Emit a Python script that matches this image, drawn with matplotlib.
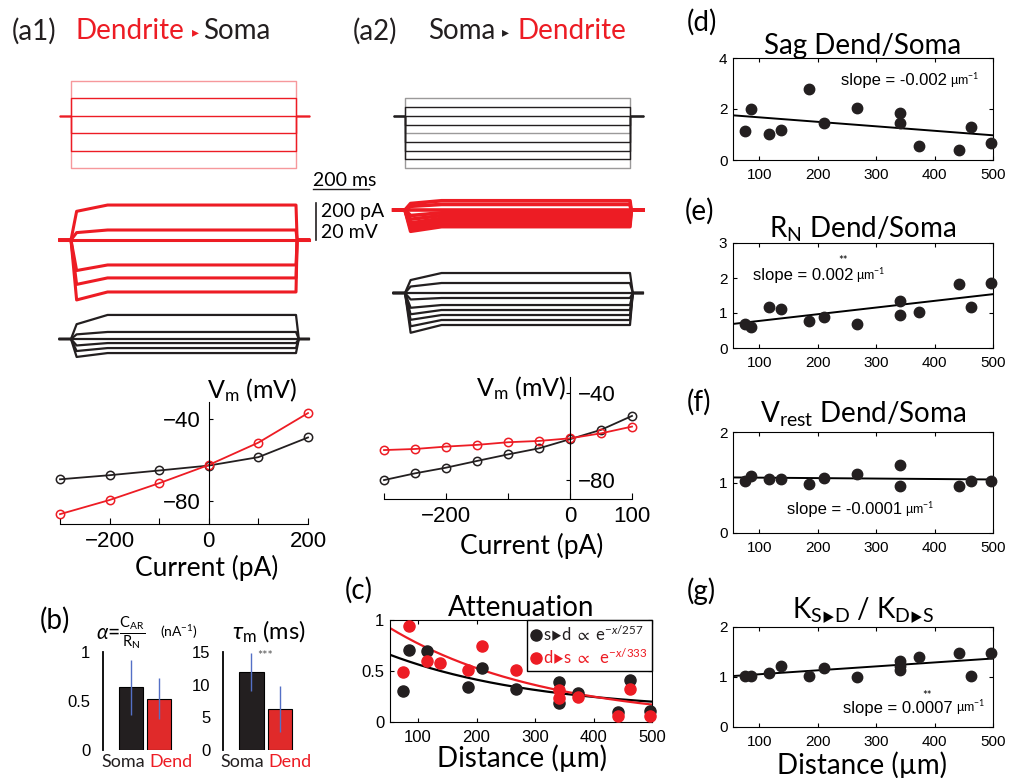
import matplotlib.pyplot as plt
import numpy as np
from matplotlib.lines import Line2D

plt.rcParams['font.family'] = ['Lato', 'DejaVu Sans']
plt.rcParams['mathtext.fontset'] = 'custom'
plt.rcParams['mathtext.rm'] = 'Lato'
plt.rcParams['mathtext.it'] = 'Lato:italic'
plt.rcParams['mathtext.bf'] = 'Lato:bold'
plt.rcParams['mathtext.fallback'] = 'stix'

RED = '#ed1c24'
BLK = '#231f20'
TICKFONT = 'Liberation Sans'
TRI = '\u25b8'

# ---- data -------------------------------------------------------------
# (a1)/(a2) current steps (pA), listed top to bottom
stim_a1 = [200, 100, 0, -100, -200, -300]
stim_a2 = [100, 50, 0, -50, -100, -150, -200, -250, -300]

# example voltage traces (mV from rest): steady state and early (sag/rise) value
a1_dend_ss = [18.9, 5.4, 0, -13.5, -20.5, -28.1]
a1_dend_early = [15.5, 4.0, 0, -16.5, -24.0, -32.4]
a1_soma_ss = [13.0, 3.8, 0, -2.2, -4.9, -7.6]
a1_soma_early = [8.0, 2.5, 0, -3.5, -6.5, -9.7]
a2_dend_ss = [5.0, 3.0, 0, -1.5, -3.0, -4.5, -6.0, -7.5, -9.0]
a2_dend_early = [3.5, 2.0, 0, -3.0, -5.0, -7.0, -8.5, -10.0, -11.5]
a2_soma_ss = [10.8, 5.4, 0, -2.7, -6.5, -9.2, -11.9, -14.6, -17.3]
a2_soma_early = [7.0, 3.5, 0, -3.5, -8.0, -11.5, -14.5, -18.0, -21.5]

# I-V curves
iv_a1_i = [-300, -200, -100, 0, 100, 200]
iv_a1_dend = [-86.4, -79.5, -71.3, -62.4, -51.5, -37.1]
iv_a1_soma = [-69.4, -67.4, -65.1, -62.7, -58.6, -49.0]
iv_a2_i = [-300, -250, -200, -150, -100, -50, 0, 50, 100]
iv_a2_dend = [-66.2, -65.7, -64.6, -63.8, -62.6, -62.0, -60.8, -58.5, -55.4]
iv_a2_soma = [-80.0, -76.9, -74.3, -71.2, -68.2, -65.4, -61.2, -56.9, -50.5]

# (b) bars: soma, dend
alpha_mean = [0.64, 0.525]
alpha_err = [0.28, 0.21]
taum_mean = [11.9, 6.25]
taum_err = [2.9, 3.55]

# (c) attenuation vs distance
att_x_sd = [75, 85, 116, 185, 210, 268, 341, 341, 373, 442, 462, 496]
att_sd = [0.30, 0.71, 0.70, 0.34, 0.53, 0.32, 0.39, 0.19, 0.28, 0.10, 0.41, 0.11]
att_x_ds = [75, 85, 116, 137, 185, 210, 268, 341, 341, 373, 442, 462, 496]
att_ds = [0.49, 0.94, 0.60, 0.58, 0.51, 0.75, 0.51, 0.31, 0.24, 0.25, 0.06, 0.32, 0.06]
fit_sd = (0.682, 257, 0.102)   # amplitude, length constant, offset
fit_ds = (1.12, 266, 0.0)

# (d)-(g) ratios vs distance
dist = [75, 85, 116, 137, 185, 210, 268, 341, 341, 373, 442, 462, 496]
sag = [1.12, 1.99, 1.01, 1.18, 2.77, 1.47, 2.05, 1.86, 1.47, 0.53, 0.39, 1.31, 0.65]
rn = [0.69, 0.61, 1.16, 1.11, 0.77, 0.88, 0.68, 1.33, 0.93, 1.04, 1.82, 1.16, 1.87]
dist_f = [75, 85, 116, 137, 185, 210, 268, 341, 341, 442, 462, 496]
vrest = [1.02, 1.13, 1.06, 1.06, 0.98, 1.09, 1.16, 1.35, 0.94, 0.94, 1.02, 1.02]
dist_g = [75, 85, 116, 137, 185, 210, 268, 341, 341, 341, 373, 442, 462, 496]
kratio = [1.03, 1.03, 1.08, 1.22, 1.03, 1.19, 1.00, 1.32, 1.22, 1.15, 1.41, 1.49, 1.03, 1.49]
# regression lines (intercept, slope)
fit_sag = (1.849, -0.00176)
fit_rn = (0.583, 0.00191)
fit_vrest = (1.105, -0.00009)
fit_k = (0.976, 0.000788)

# ---- figure -----------------------------------------------------------
W, H = 1011, 778
fig = plt.figure(figsize=(W / 100, H / 100), dpi=100)


def pax(x0, y0, x1, y1):
    return fig.add_axes([x0 / W, 1 - y1 / H, (x1 - x0) / W, (y1 - y0) / H])


def ftext(x, y, s, **kw):
    kw.setdefault('va', 'center')
    return fig.text(x / W, 1 - y / H, s, **kw)


def fline(xs, ys, **kw):
    fig.add_artist(Line2D([x / W for x in xs], [1 - y / H for y in ys], **kw))


# ---- (a1)/(a2) traces ---------------------------------------------------
PX_PER_MV = 1.85
T_ON, T_OFF, T_END = 40, 840, 885
MS_PX = 225 / 800


def trace_axes(x_on, y_top, y_bot, ylim):
    x0 = x_on - T_ON * MS_PX
    ax = pax(x0, y_top, x0 + T_END * MS_PX, y_bot)
    ax.set_xlim(0, T_END)
    ax.set_ylim(ylim)
    ax.axis('off')
    return ax


def volt_axes(x_on, y_top, y_base, y_bot):
    return trace_axes(x_on, y_top, y_bot,
                      (-(y_bot - y_base) / PX_PER_MV, (y_base - y_top) / PX_PER_MV))


def draw_stim(ax, levels, color, light):
    for k, lev in enumerate(levels):
        a = 0.45 if k in light else 1.0
        ax.plot([0, T_ON, T_ON, T_OFF, T_OFF, T_END], [0, 0, lev, lev, 0, 0],
                color=color, lw=1.0, alpha=a, clip_on=False)


def draw_volt(ax, ss, early, color, lw, lag):
    for s, e in zip(ss, early):
        t = [0, T_ON, T_ON + 20, T_ON + 130, T_OFF, T_OFF + lag, T_END]
        v = [0, 0, e, s, s, 0, 0]
        ax.plot(t, v, color=color, lw=lw, clip_on=False, solid_joinstyle='round')


ax = trace_axes(71, 81, 168, (-300, 200))
draw_stim(ax, stim_a1, RED, [0, len(stim_a1) - 1])
ax = volt_axes(71, 190, 240, 305)
draw_volt(ax, a1_dend_ss, a1_dend_early, RED, 2.2, 4)
ax = volt_axes(71, 305, 339, 370)
draw_volt(ax, a1_soma_ss, a1_soma_early, BLK, 1.6, 10)

ax = trace_axes(405, 81, 168, (-300, 200))
draw_stim(ax, stim_a2, BLK, [0, 4, len(stim_a2) - 1])
ax = volt_axes(405, 180, 210, 240)
draw_volt(ax, a2_dend_ss, a2_dend_early, RED, 2.6, 4)
ax = volt_axes(405, 250, 293, 345)
draw_volt(ax, a2_soma_ss, a2_soma_early, BLK, 1.6, 10)

# scale bars
ftext(313, 181, '200 ms', fontsize=14, ha='left')
fline([313, 369], [189, 189], color=BLK, lw=1.0)
fline([316, 316], [203, 240], color=BLK, lw=1.2)
ftext(321, 211, '200 pA', fontsize=14, ha='left')
ftext(321, 232, '20 mV', fontsize=14, ha='left')

# headers
ftext(12, 31, '(a1)', fontsize=20, ha='left', color=BLK)
ftext(75, 31, 'Dendrite', fontsize=20, ha='left', color=RED)
ftext(195, 32, TRI, fontsize=10, ha='center', color=RED)
ftext(203, 31, 'Soma', fontsize=20, ha='left', color=BLK)
ftext(353, 31, '(a2)', fontsize=20, ha='left', color=BLK)
ftext(428, 31, 'Soma', fontsize=20, ha='left', color=BLK)
ftext(505, 32, TRI, fontsize=10, ha='center', color=BLK)
ftext(517, 31, 'Dendrite', fontsize=20, ha='left', color=RED)


# ---- I-V curves ---------------------------------------------------------
def iv_axes(box, xlim, ylim, xt, xtl, right=False):
    ax = pax(*box)
    ax.set_xlim(xlim)
    ax.set_ylim(ylim)
    ax.patch.set_visible(False)
    ax.spines['top'].set_visible(False)
    if right:
        ax.spines['left'].set_visible(False)
        ax.spines['right'].set_position(('data', 0))
        ax.yaxis.tick_right()
    else:
        ax.spines['right'].set_visible(False)
        ax.spines['left'].set_position(('data', 0))
    ax.set_xticks(xt)
    ax.set_xticklabels(xtl)
    ax.set_yticks([-80, -40])
    ax.set_yticklabels(['\u221280', '\u221240'])
    ax.tick_params(axis='x', direction='in', length=4, pad=5)
    ax.tick_params(axis='y', direction='in', length=3, pad=6)
    ax.tick_params(labelsize=16, labelfontfamily=TICKFONT)
    return ax


ax = iv_axes((60, 402, 308, 524), (-300, 200), (-91.2, -31.7),
             [-300, -200, -100, 0, 100, 200], ['', '\u2212200', '', '0', '', '200'])
ax.plot(iv_a1_i, iv_a1_soma, 'o-', color=BLK, mfc='none', ms=6, mew=1.1, lw=1.3, clip_on=False)
ax.plot(iv_a1_i, iv_a1_dend, 'o-', color=RED, mfc='none', ms=6, mew=1.1, lw=1.3, clip_on=False)
ftext(207, 390, r'V$_\mathregular{m}$ (mV)', fontsize=18, ha='left')
ftext(207, 568, 'Current (pA)', fontsize=19, ha='center')

ax = iv_axes((384, 377, 632, 499), (-300, 100), (-88.7, -32.6),
             [-300, -200, -100, 0, 100], ['', '\u2212200', '', '0', '100'], right=True)
ax.plot(iv_a2_i, iv_a2_soma, 'o-', color=BLK, mfc='none', ms=6, mew=1.1, lw=1.3, clip_on=False)
ax.plot(iv_a2_i, iv_a2_dend, 'o-', color=RED, mfc='none', ms=6, mew=1.1, lw=1.3, clip_on=False)
ftext(566, 388, r'V$_\mathregular{m}$ (mV)', fontsize=18, ha='right')
ftext(532, 546, 'Current (pA)', fontsize=19, ha='center')


# ---- (b) bars -----------------------------------------------------------
def bar_axes(box, vals, errs, ylim, yt, ytl):
    ax = pax(*box)
    ax.bar([1, 2], vals, width=0.857, color=[BLK, '#e02a2a'], edgecolor='black', lw=0.8)
    ax.errorbar([1, 2], vals, yerr=errs, fmt='none', ecolor='#5470c6', elinewidth=1.0, capsize=0)
    ax.set_xlim(0, 2.6)
    ax.set_ylim(ylim)
    for s in ['top', 'right', 'bottom']:
        ax.spines[s].set_visible(False)
    ax.spines['left'].set_linewidth(1.3)
    ax.set_xticks([])
    ax.set_yticks(yt)
    ax.set_yticklabels(ytl)
    ax.tick_params(axis='y', length=0, pad=9, labelsize=12, labelfontfamily=TICKFONT)
    return ax


bar_axes((103, 652, 176, 750), alpha_mean, alpha_err, (0, 1), [0, 0.5, 1], ['0', '0.5', '1'])
bar_axes((223, 652, 297, 750), taum_mean, taum_err, (0, 15), [0, 5, 10, 15], ['0', '5', '10', '15'])
ftext(145, 762, 'Soma', fontsize=13, ha='right', color=BLK)
ftext(149, 762, 'Dend', fontsize=13, ha='left', color=RED)
ftext(264, 762, 'Soma', fontsize=13, ha='right', color=BLK)
ftext(268, 762, 'Dend', fontsize=13, ha='left', color=RED)
ftext(96, 633, r'$\alpha$=$\frac{\mathregular{C_{AR}}}{\mathregular{R_N}}$', fontsize=15, ha='left')
ftext(160, 632, r'(nA$^{-1}$)', fontsize=10, ha='left')
ftext(232, 632, r'$\tau_\mathregular{m}$ (ms)', fontsize=17, ha='left')
ftext(265, 656, '***', fontsize=9, ha='center', color='#555555')
ftext(40, 620, '(b)', fontsize=20, ha='left')


# ---- (c)-(g) boxed scatter panels ---------------------------------------
def box_axes(box, xlim, ylim, yt, ytl, lsize):
    ax = pax(*box)
    ax.set_xlim(xlim)
    ax.set_ylim(ylim)
    ax.set_xticks([100, 200, 300, 400, 500])
    ax.set_yticks(yt)
    ax.set_yticklabels(ytl)
    ax.tick_params(direction='in', top=True, right=True, length=3, width=0.8,
                   labelsize=lsize, labelfontfamily=TICKFONT)
    ax.tick_params(axis='x', pad=6)
    ax.tick_params(axis='y', pad=4)
    return ax


ax = box_axes((390, 620, 652, 722), (52, 500), (0, 1), [0, 0.5, 1], ['0', '0.5', '1'], 12)
xs = np.linspace(52, 500, 200)
ax.plot(xs, fit_sd[0] * np.exp(-xs / fit_sd[1]) + fit_sd[2], color='black', lw=1.6)
ax.plot(xs, fit_ds[0] * np.exp(-xs / fit_ds[1]) + fit_ds[2], color=RED, lw=1.6)
h1, = ax.plot(att_x_sd, att_sd, 'o', color=BLK, ms=8, clip_on=False, zorder=3)
h2, = ax.plot(att_x_ds, att_ds, 'o', color=RED, ms=8, clip_on=False, zorder=4)
ax.legend([h1, h2], ['s$' + TRI + '$d $\\propto$ e$^{-x/257}$',
                     'd$' + TRI + '$s $\\propto$  e$^{-x/333}$'],
          loc='upper right', fontsize=12, labelcolor=[BLK, RED], handlelength=0.6,
          handletextpad=0.1, borderpad=0.25, labelspacing=0.15, borderaxespad=0,
          fancybox=False, edgecolor='black', framealpha=1)
ax.set_title('Attenuation', fontsize=20, pad=3)
ftext(522, 758, 'Distance (\u00b5m)', fontsize=20, ha='center')
ftext(345, 590, '(c)', fontsize=20, ha='left')


def ratio_panel(box, x, y, fit, ylim, yt, title, pad):
    ax = box_axes(box, (55, 500), ylim, yt, [str(v) for v in yt], 11)
    xl = np.array([55, 500])
    ax.plot(xl, fit[0] + fit[1] * xl, color='black', lw=1.4)
    ax.plot(x, y, 'o', color=BLK, ms=7.5, clip_on=False, zorder=3)
    ax.set_title(title, fontsize=20, pad=pad)
    return ax


def slope_label(ax, xr, y, val):
    ax.text(xr, y, 'slope = ' + val, transform=ax.transAxes, ha='right', va='center',
            fontsize=12, family=TICKFONT)
    ax.text(xr + 0.012, y, '\u00b5m$^{-1}$', transform=ax.transAxes,
            ha='left', va='center', fontsize=9, family=TICKFONT)


ax = ratio_panel((733, 58, 993, 160), dist, sag, fit_sag, (0, 4), [0, 2, 4], 'Sag Dend/Soma', 3)
slope_label(ax, 0.823, 0.78, '-0.002')
ftext(687, 22, '(d)', fontsize=20, ha='left')

ax = ratio_panel((733, 243, 993, 348), dist, rn, fit_rn, (0, 3), [0, 1, 2, 3],
                 r'R$_\mathregular{N}$ Dend/Soma', 4)
slope_label(ax, 0.462, 0.686, '0.002')
ax.text(0.423, 0.83, '**', transform=ax.transAxes, ha='center', va='center', fontsize=8)
ftext(685, 211, '(e)', fontsize=20, ha='left')

ax = ratio_panel((733, 432, 993, 533), dist_f, vrest, fit_vrest, (0, 2), [0, 1, 2],
                 r'V$_\mathregular{rest}$ Dend/Soma', 6.5)
slope_label(ax, 0.65, 0.23, '-0.0001')
ftext(687, 402, '(f)', fontsize=20, ha='left')

ax = ratio_panel((733, 627, 993, 727), dist_g, kratio, fit_k, (0, 2), [0, 1, 2],
                 'K$_{\\mathregular{S}' + TRI + '\\mathregular{D}}$ / '
                 'K$_{\\mathregular{D}' + TRI + '\\mathregular{S}}$', 7)
slope_label(ax, 0.846, 0.19, '0.0007')
ax.text(0.746, 0.31, '**', transform=ax.transAxes, ha='center', va='center', fontsize=8)
ftext(862, 765, 'Distance (\u00b5m)', fontsize=20, ha='center')
ftext(687, 591, '(g)', fontsize=20, ha='left')

fig.savefig('out.png', dpi=100)
